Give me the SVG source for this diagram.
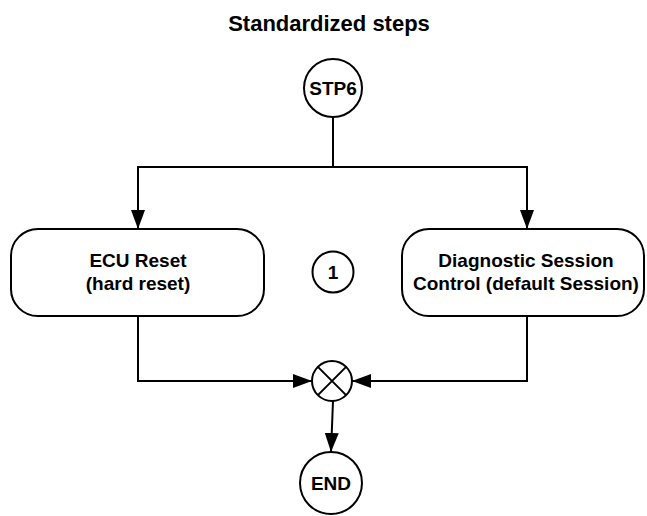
<svg xmlns="http://www.w3.org/2000/svg" width="647" height="516" viewBox="0 0 647 516">
<defs>
<style>
.ln{fill:none;stroke:#000;stroke-width:2}
.nd{fill:#fff;stroke:#000;stroke-width:2}
.t{font-family:"Liberation Sans",Arial,sans-serif;font-weight:bold;font-size:19px;text-anchor:middle;fill:#000}
.title{font-size:22px}
</style>
<marker id="ah" markerUnits="userSpaceOnUse" markerWidth="20" markerHeight="14" refX="19" refY="7" orient="auto">
<path d="M0,0 L19,7 L0,14 Z" fill="#000"/>
</marker>
</defs>
<rect width="647" height="516" fill="#fff"/>
<text class="t title" x="329" y="31">Standardized steps</text>
<g id="connectors">
<path class="ln" d="M333,117 V167 H138 V229" marker-end="url(#ah)"/>
<path class="ln" d="M333,167 H527 V229" marker-end="url(#ah)"/>
<path class="ln" d="M138,316 V381 H312" marker-end="url(#ah)"/>
<path class="ln" d="M527,316 V381 H352" marker-end="url(#ah)"/>
<path class="ln" d="M333,401 L331,452" marker-end="url(#ah)"/>
</g>
<g id="stp6">
<circle class="nd" cx="333" cy="88" r="29"/>
<text class="t" x="333" y="95">STP6</text>
</g>
<g id="ecu-reset">
<rect class="nd" x="11" y="229" width="253" height="87" rx="27" ry="27"/>
<text class="t" x="138" y="267">ECU Reset</text>
<text class="t" x="138" y="290">(hard reset)</text>
</g>
<g id="marker1">
<circle class="nd" cx="333" cy="272" r="20.5"/>
<text class="t" x="333" y="279">1</text>
</g>
<g id="diag-session">
<rect class="nd" x="402" y="229" width="242" height="87" rx="27" ry="27"/>
<text class="t" x="526" y="267">Diagnostic Session</text>
<text class="t" x="526" y="290">Control (default Session)</text>
</g>
<g id="merge">
<circle class="nd" cx="332" cy="381" r="20"/>
<path class="ln" d="M317.9,366.9 L346.1,395.1 M346.1,366.9 L317.9,395.1"/>
</g>
<g id="end">
<circle class="nd" cx="331" cy="483" r="31"/>
<text class="t" x="331" y="490">END</text>
</g>
</svg>
